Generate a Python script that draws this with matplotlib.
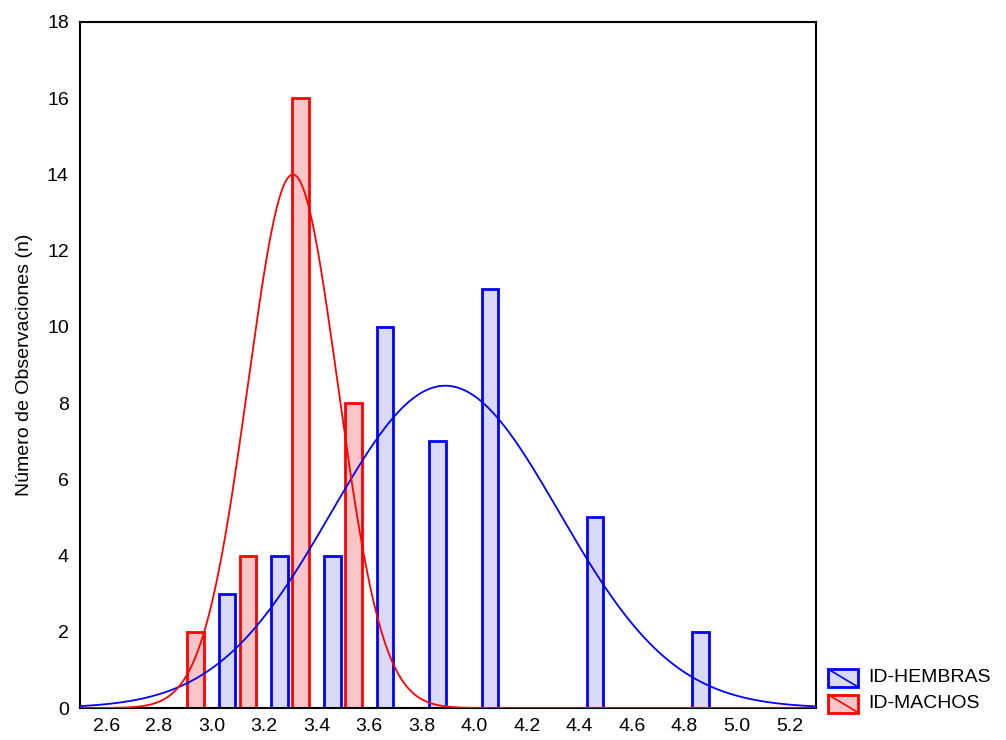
import numpy as np
import matplotlib
matplotlib.use("Agg")
import matplotlib.pyplot as plt
from matplotlib.patches import Rectangle
from matplotlib.lines import Line2D

plt.rcParams["font.family"] = ["Liberation Sans", "DejaVu Sans"]

# bin centres (width 0.2) and counts
hembras_bins = [3.0, 3.2, 3.4, 3.6, 3.8, 4.0, 4.4, 4.8]
hembras_counts = [3, 4, 4, 10, 7, 11, 5, 2]
machos_bins = [3.0, 3.2, 3.4, 3.6]
machos_counts = [2, 4, 16, 8]

# fitted normal curves (mean, sd)
hembras_mean, hembras_sd = 3.89, 0.434
machos_mean, machos_sd = 3.31, 0.171
bin_width = 0.2

x_ticks = [2.6, 2.8, 3.0, 3.2, 3.4, 3.6, 3.8, 4.0, 4.2, 4.4, 4.6, 4.8, 5.0, 5.2]
y_ticks = [0, 2, 4, 6, 8, 10, 12, 14, 16, 18]

blue_fill = "#dadaf8"
red_fill = "#f8c6c6"
fs = 14


def normal_curve(x, mean, sd, n):
    return n * bin_width * np.exp(-0.5 * ((x - mean) / sd) ** 2) / (sd * np.sqrt(2 * np.pi))


fig = plt.figure(figsize=(10.06, 7.40), dpi=100)
ax = fig.add_axes([0.0795, 0.0432, 0.7315, 0.9271])

offset = 0.06
bw = 0.063
ax.bar(np.array(hembras_bins) + offset, hembras_counts, width=bw, color=blue_fill,
       edgecolor="blue", linewidth=2, zorder=2)
ax.bar(np.array(machos_bins) - offset, machos_counts, width=bw, color=red_fill,
       edgecolor="red", linewidth=2, zorder=2)

xs = np.linspace(2.5, 5.3, 600)
ax.plot(xs, normal_curve(xs, hembras_mean, hembras_sd, sum(hembras_counts)), color="blue", lw=1.3, zorder=3)
ax.plot(xs, normal_curve(xs, machos_mean, machos_sd, sum(machos_counts)), color="red", lw=1.3, zorder=3)

ax.set_xlim(2.5, 5.3)
ax.set_ylim(0, 18)
ax.set_xticks(x_ticks)
ax.set_xticklabels([f"{t:.1f}" for t in x_ticks])
ax.set_yticks(y_ticks)
ax.tick_params(length=0, labelsize=fs)
ax.tick_params(axis="y", pad=8)
ax.tick_params(axis="x", pad=7)
for s in ax.spines.values():
    s.set_linewidth(1.5)
ax.set_ylabel("Número de Observaciones (n)", fontsize=fs, labelpad=10)

# legend drawn by hand: box with a single diagonal line
legend_items = [("ID-HEMBRAS", "blue", blue_fill), ("ID-MACHOS", "red", red_fill)]
lx0, lw_, lh = 828 / 1006, 30 / 1006, 18 / 740
for i, (label, edge, fill) in enumerate(legend_items):
    top = 1 - (669 + i * 25.5) / 740
    fig.add_artist(Rectangle((lx0, top - lh), lw_, lh, transform=fig.transFigure,
                             facecolor=fill, edgecolor=edge, linewidth=2))
    fig.add_artist(Line2D([lx0, lx0 + lw_], [top, top - lh], transform=fig.transFigure,
                          color=edge, linewidth=1.2))
    fig.text(868 / 1006, top - lh / 2, label, fontsize=fs, va="center", ha="left")

fig.savefig("out.png", dpi=100)
